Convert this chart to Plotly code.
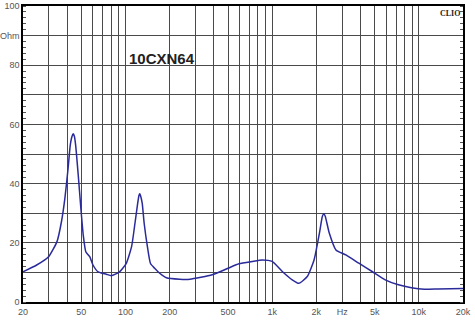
import plotly.graph_objects as go

freq = [20, 24.8, 29.9, 34.1, 36.6, 38.6, 40.6, 42, 43.2, 44, 44.8, 45.7, 47.6, 49.6, 51.5, 53.6, 57, 60, 65, 74,
        80, 91, 101, 110, 116, 121, 123.5, 125, 126.5, 130, 134, 141, 148, 158, 171, 190, 234, 275, 390, 500,
        594, 731, 855, 1000, 1172, 1370, 1520, 1735, 1930, 2100, 2200, 2250, 2300, 2450, 2720, 3180, 3900,
        4800, 5900, 7260, 8900, 10900, 13500, 20000]
imp = [10.2, 12.5, 15.3, 20.4, 27.2, 35, 45.2, 53.0, 56.0, 56.8, 56.0, 53, 42.9, 31.7, 22.6, 17, 15.3, 12.5, 10.2, 9.4,
       8.9, 10.2, 13, 18.7, 26.6, 33.3, 36.0, 36.6, 36.0, 33.3, 26.6, 18.7, 13, 11.4, 9.7, 8.2, 7.7, 7.7, 9.2, 11.4,
       12.9, 13.7, 14.2, 13.7, 10.3, 7.5, 6.3, 8.6, 14.2, 23.3, 29.0, 29.8, 29.0, 23.3, 17.6, 15.9, 13.1,
       10.3, 7.5, 5.8, 4.8, 4.3, 4.4, 4.6]

x_grid = [20, 30, 40, 50, 60, 70, 80, 90, 100, 200, 300, 400, 500, 600, 700, 800, 900,
          1000, 2000, 3000, 4000, 5000, 6000, 7000, 8000, 9000, 10000, 20000]
x_labels = {20: "20", 50: "50", 100: "100", 200: "200", 500: "500", 1000: "1k", 2000: "2k",
            3000: "Hz", 5000: "5k", 10000: "10k", 20000: "20k"}
y_grid = [0, 10, 20, 30, 40, 50, 60, 70, 80, 90, 100]
y_labels = {0: "0", 20: "20", 40: "40", 60: "60", 80: "80", 90: "Ohm", 100: "100"}

title_text = "10CXN64"
brand_text = "CLIO"

fig = go.Figure()
fig.add_trace(go.Scatter(x=freq, y=imp, mode="lines",
                         line=dict(color="#2a2a9a", width=1.5, shape="spline", smoothing=0.5),
                         hoverinfo="skip"))

fig.update_layout(
    width=475, height=321,
    margin=dict(l=23, r=12, t=6, b=19),
    paper_bgcolor="white", plot_bgcolor="white",
    showlegend=False,
    font=dict(family="Arial, Liberation Sans, sans-serif", size=9, color="#555555"),
    xaxis=dict(type="log", range=[1.30103, 4.30103], automargin=False,
               tickmode="array", tickvals=x_grid,
               ticktext=[x_labels.get(v, "") for v in x_grid],
               showgrid=True, gridcolor="#4a4a4a", gridwidth=1,
               showline=True, linecolor="black", linewidth=1.5, mirror=True,
               ticks="", zeroline=False, tickfont=dict(size=9, color="#555555")),
    yaxis=dict(range=[0, 100], tickmode="array", tickvals=y_grid, automargin=False,
               ticktext=[y_labels.get(v, "") for v in y_grid],
               showgrid=True, gridcolor="#4a4a4a", gridwidth=1,
               showline=True, linecolor="black", linewidth=1.5, mirror="allticks",
               ticks="", zeroline=False, tickfont=dict(size=9, color="#555555"),
               minor=dict(tickmode="linear", tick0=0, dtick=2, ticks="inside",
                          ticklen=3, tickcolor="#555555", showgrid=False)),
    annotations=[
        dict(x=0.236, y=0.821, xref="paper", yref="paper", text="<b>" + title_text + "</b>",
             showarrow=False, xanchor="left", yanchor="middle",
             font=dict(family="Arial, Liberation Sans, sans-serif", size=15, color="#222222")),
        dict(x=0.998, y=0.995, xref="paper", yref="paper", text="<b>" + brand_text + "</b>",
             showarrow=False, xanchor="right", yanchor="top",
             font=dict(family="Liberation Serif, Times New Roman, serif", size=8, color="#222222")),
    ],
)

fig.write_html("out.html", config={"displayModeBar": False},
               post_script="document.body.style.margin='0';document.body.style.overflow='hidden';")
